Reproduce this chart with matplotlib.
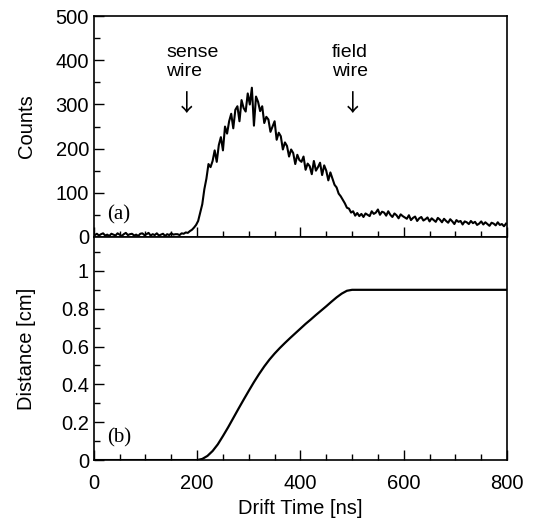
import numpy as np
import matplotlib.pyplot as plt
from matplotlib.ticker import MultipleLocator

# drift-time histogram, 4 ns bins starting at 0 ns
bin_width = 4
counts = [
    4, 7, 3, 6, 8, 3, 5, 2, 7, 5,
    3, 8, 5, 2, 6, 9, 4, 6, 7, 3,
    5, 2, 7, 8, 4, 6, 9, 3, 6, 4,
    8, 3, 5, 7, 2, 6, 4, 8, 5, 6,
    6, 4, 8, 7, 10, 9, 13, 16, 21, 27,
    36, 55, 74, 108, 132, 165, 158, 172, 196, 170,
    208, 226, 196, 250, 234, 262, 279, 246, 288, 296,
    262, 310, 292, 284, 325, 300, 338, 252, 318, 306,
    285, 296, 258, 272, 266, 238, 250, 262, 220, 236,
    228, 198, 214, 206, 182, 198, 190, 165, 186, 174,
    170, 182, 152, 166, 160, 142, 172, 150, 158, 168,
    140, 162, 150, 128, 146, 132, 118, 112, 98, 92,
    84, 76, 66, 64, 55, 58, 48, 54, 47, 52,
    45, 53, 50, 47, 58, 52, 55, 62, 50, 57,
    55, 48, 58, 50, 45, 53, 49, 42, 51, 47,
    44, 41, 49, 38, 43, 46, 36, 42, 45, 37,
    40, 44, 35, 42, 38, 34, 43, 39, 33, 41,
    36, 32, 40, 35, 29, 38, 34, 36, 28, 35,
    33, 29, 36, 31, 34, 27, 30, 35, 28, 33,
    29, 25, 32, 30, 26, 33, 27, 29, 24, 30,
]

# space-time relation
dist_time = [0, 200, 210, 220, 230, 240, 250, 260, 270, 280, 290, 300, 310,
             320, 330, 340, 350, 360, 370, 380, 390, 400, 410, 420, 430, 440,
             450, 460, 470, 480, 490, 500, 800]
distance = [0, 0, 0.006, 0.022, 0.048, 0.083, 0.127, 0.173, 0.222, 0.271, 0.319,
            0.366, 0.412, 0.455, 0.495, 0.531, 0.563, 0.592, 0.619, 0.645,
            0.67, 0.695, 0.72, 0.743, 0.767, 0.79, 0.813, 0.837, 0.86, 0.88,
            0.895, 0.90, 0.90]

plt.rcParams['font.family'] = ['Liberation Sans', 'DejaVu Sans']
plt.rcParams['font.size'] = 14.5

fig = plt.figure(figsize=(5.36, 5.24), dpi=100)
ax1 = fig.add_axes([0.175, 0.548, 0.771, 0.421])
ax2 = fig.add_axes([0.175, 0.122, 0.771, 0.426], sharex=ax1)

centers = (np.arange(len(counts)) + 0.5) * bin_width
ax1.plot(centers, counts, color='black', lw=1.5)
ax1.set_ylim(0, 500)
ax1.set_ylabel('Counts')
ax1.yaxis.set_major_locator(MultipleLocator(100))
ax1.yaxis.set_minor_locator(MultipleLocator(50))
ax1.tick_params(labelbottom=False)
ax1.text(25, 50, '(a)', family='Liberation Serif', fontsize=15, va='center')

ax1.text(140, 397, 'sense\nwire', ha='left', va='center', fontsize=14,
         linespacing=1.15)
ax1.text(180, 300, '\u2193', ha='center', va='center', fontsize=17,
         family='Noto Sans CJK JP')
ax1.text(461, 397, 'field\nwire', ha='left', va='center', fontsize=14,
         linespacing=1.15)
ax1.text(500, 300, '\u2193', ha='center', va='center', fontsize=17,
         family='Noto Sans CJK JP')

ax2.plot(dist_time, distance, color='black', lw=1.6)
ax2.set_ylim(0, 1.18)
ax2.set_ylabel('Distance [cm]')
ax2.set_yticks([0, 0.2, 0.4, 0.6, 0.8, 1.0])
ax2.set_yticklabels(['0', '0.2', '0.4', '0.6', '0.8', '1'])
ax2.yaxis.set_minor_locator(MultipleLocator(0.1))
ax2.text(25, 0.116, '(b)', family='Liberation Serif', fontsize=15, va='center')

ax2.set_xlim(0, 800)
ax2.xaxis.set_major_locator(MultipleLocator(200))
ax2.xaxis.set_minor_locator(MultipleLocator(50))
ax2.set_xlabel('Drift Time [ns]')
ax2.tick_params(axis='x', which='major', pad=10)
ax2.xaxis.set_label_coords(0.5, -0.175)

for ax in (ax1, ax2):
    for s in ax.spines.values():
        s.set_linewidth(1.2)
    ax.tick_params(which='both', direction='in', top=False, right=False, width=1)
    ax.tick_params(which='major', length=7)
    ax.tick_params(which='minor', length=4)
    ax.yaxis.set_label_coords(-0.14, 0.5)

fig.savefig('out.png', dpi=100)
